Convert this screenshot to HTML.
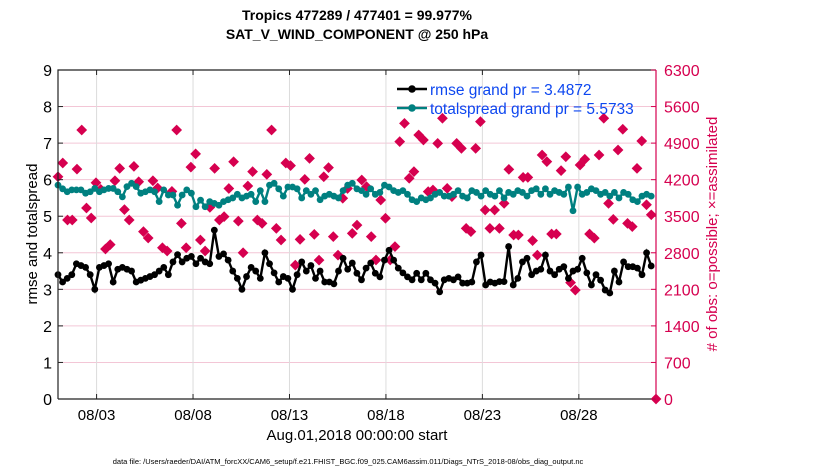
<!DOCTYPE html>
<html><head><meta charset="utf-8"><style>
body{margin:0;background:#fff;}
svg text{font-family:"Liberation Sans",Arial,sans-serif;}
</style></head><body>
<svg id="chart" width="830" height="470" xmlns="http://www.w3.org/2000/svg">
<rect width="830" height="470" fill="#fff"/>
<g id="grid"></g>
<g id="marks"></g>
<g id="axes"></g>
<text x="357" y="20" font-size="14" font-weight="bold" text-anchor="middle">Tropics 477289 / 477401 = 99.977%</text>
<text x="357" y="39" font-size="14" font-weight="bold" text-anchor="middle">SAT_V_WIND_COMPONENT @ 250 hPa</text>
<text transform="translate(37,234) rotate(-90)" font-size="15" text-anchor="middle">rmse and totalspread</text>
<text transform="translate(717,234) rotate(-90)" font-size="15" fill="#d6004f" text-anchor="middle"># of obs: o=possible; ×=assimilated</text>
<text x="357" y="440" font-size="15" text-anchor="middle">Aug.01,2018 00:00:00 start</text>
<text x="348" y="464" font-size="7.5" text-anchor="middle">data file: /Users/raeder/DAI/ATM_forcXX/CAM6_setup/f.e21.FHIST_BGC.f09_025.CAM6assim.011/Diags_NTrS_2018-08/obs_diag_output.nc</text>
<g>
<line x1="397" y1="89" x2="427" y2="89" stroke="#000" stroke-width="2.5"/>
<circle cx="412" cy="89" r="3.8" fill="#000"/>
<text x="430" y="95" font-size="15.5" fill="#0d47f0">rmse grand pr = 3.4872</text>
<line x1="397" y1="108" x2="427" y2="108" stroke="#008080" stroke-width="2.5"/>
<circle cx="412" cy="108" r="3.8" fill="#008080"/>
<text x="430" y="114" font-size="15.5" fill="#0d47f0">totalspread grand pr = 5.5733</text>
</g>
</svg>
<script>
const xTickLabels = ["08/03","08/08","08/13","08/18","08/23","08/28"];
const xTickDays = [2,7,12,17,22,27];
const yTicks = [0,1,2,3,4,5,6,7,8,9];
const y2Ticks = [0,700,1400,2100,2800,3500,4200,4900,5600,6300];
const rmse = [3.4,3.2,3.3,3.4,3.7,3.65,3.6,3.4,3.0,3.6,3.65,3.7,3.2,3.55,3.6,3.55,3.5,3.2,3.25,3.3,3.35,3.4,3.5,3.6,3.4,3.75,3.95,3.75,3.85,3.9,3.7,3.85,3.75,3.7,
4.62,3.9,3.97,3.8,3.5,3.3,3.0,3.35,3.6,3.5,3.3,4.0,3.7,3.45,3.2,3.35,3.3,3.0,3.4,3.75,3.5,3.65,3.3,3.5,3.2,3.2,3.15,3.5,3.85,3.55,
3.72,3.44,3.26,3.58,3.72,3.44,3.34,3.8,4.07,3.8,3.58,3.45,3.34,3.26,3.44,3.26,3.44,3.26,3.17,2.93,3.26,3.3,3.26,3.34,3.17,3.17,3.2,3.75,3.94,3.12,3.2,3.17,
3.21,3.21,4.17,3.12,3.3,3.75,3.85,3.4,3.5,3.55,3.94,3.5,3.4,3.55,3.62,3.3,3.5,3.55,3.85,3.45,3.12,3.4,3.25,2.98,2.9,3.5,3.2,3.75,3.62,3.62,3.58,3.4,4.0,3.64];
const spread = [5.85,5.75,5.67,5.72,5.72,5.72,5.63,5.67,5.76,5.67,5.72,5.76,5.76,5.67,5.53,5.81,5.9,5.81,5.63,5.67,5.72,5.67,5.4,5.72,5.58,5.58,5.3,5.58,5.72,5.63,5.26,5.44,5.26,5.4,
5.35,5.3,5.4,5.45,5.5,5.6,5.5,5.55,5.6,5.4,5.7,5.4,5.85,5.9,5.75,5.55,5.8,5.8,5.75,5.5,5.7,5.6,5.7,5.45,5.55,5.6,5.55,5.5,5.7,5.85,
5.9,5.75,5.7,5.6,5.75,5.6,5.65,5.85,5.8,5.7,5.65,5.7,5.6,5.45,5.4,5.5,5.45,5.5,5.6,5.65,5.55,5.55,5.6,5.7,5.55,5.5,5.7,5.65,5.55,5.7,5.6,5.55,
5.7,5.5,5.65,5.6,5.7,5.65,5.55,5.7,5.75,5.6,5.75,5.6,5.7,5.65,5.6,5.8,5.15,5.8,5.6,5.65,5.75,5.7,5.6,5.65,5.55,5.65,5.5,5.65,5.6,5.45,5.4,5.55,5.6,5.55];
const obsCount = [4257,4519,3428,3428,4403,5151,3657,3466,4142,4014,2872,2955,4180,4417,3627,3428,4455,4161,3204,3083,4180,4040,2897,2834,3976,5151,3364,2897,4440,4695,3045,2834,
3670,4417,3428,3492,4030,4544,3407,2800,4078,4353,3428,3364,4302,5151,3268,3045,4519,4468,2563,3057,4206,4608,3153,2660,4257,4430,3109,2755,3844,4030,
3172,3330,4194,4066,3109,2662,3811,3460,2662,2917,4928,5279,4226,4353,5055,4960,3970,4002,4896,5375,4034,3875,4896,4800,3267,3204,4800,5311,3619,3267,
3619,3268,3747,4398,3140,3140,4245,4245,3032,2755,4673,4545,3160,3160,4372,4640,2228,2085,4480,4590,3160,3080,4673,5375,3747,3440,4769,5165,3362,3300,4417,4940,3720,3527,0];

const L=58,R=656,T=70,B=399, NS="http://www.w3.org/2000/svg";
const xS = d => L + d*(R-L)/31;
const yS = v => B - v*(B-T)/9;
const y2S = v => B - v*(B-T)/6300;
function mk(tag, attrs, parent){const e=document.createElementNS(NS,tag);for(const k in attrs)e.setAttribute(k,attrs[k]);document.getElementById(parent).appendChild(e);return e;}
yTicks.forEach(v=>{ if(v>0&&v<9){const g=mk('line',{x1:L,x2:R,y1:yS(v),y2:yS(v),stroke:'#f3c6d6','stroke-width':1},'grid');

}});
xTickDays.forEach(d=>{const g=mk('line',{x1:xS(d),x2:xS(d),y1:T,y2:B,stroke:'#dcdcdc','stroke-width':1},'grid');

});
const rn=obsCount.length;
obsCount.forEach((v,i)=>{const x=xS(i*31/(rn-1)),y=y2S(v);
const p=mk('rect',{x:x-3.8,y:y-3.8,width:7.6,height:7.6,fill:'#d6004f',transform:`rotate(45 ${x} ${y})`},'marks');

});
function series(arr,color,name){const n=arr.length;const pts=arr.map((v,i)=>[xS(i*30.75/(n-1)),yS(v)]);
const pl=mk('polyline',{points:pts.map(p=>p.join(',')).join(' '),fill:'none',stroke:color,'stroke-width':2.4},'marks');


pts.forEach(p=>{const c=mk('circle',{cx:p[0],cy:p[1],r:3.4,fill:color},'marks');

});}
series(spread,'#008080','totalspread');
series(rmse,'#000','rmse');
const ax=mk('path',{d:`M${L},${B}H${R}M${L},${B}V${T}H${R}`,stroke:'#222','stroke-width':1.2,fill:'none'},'axes');


const ax2=mk('line',{x1:R,x2:R,y1:T,y2:B,stroke:'#d6004f','stroke-width':1.2},'axes');


yTicks.forEach(v=>{mk('line',{x1:L,x2:L+5,y1:yS(v),y2:yS(v),stroke:'#222'},'axes');
const t=mk('text',{x:L-6,y:yS(v)+6,'font-size':16,'text-anchor':'end'},'axes');t.textContent=v;

});
y2Ticks.forEach(v=>{mk('line',{x1:R-5,x2:R,y1:y2S(v),y2:y2S(v),stroke:'#d6004f'},'axes');
const t=mk('text',{x:R+8,y:y2S(v)+6,'font-size':16,fill:'#d6004f'},'axes');t.textContent=v;

});
xTickDays.forEach((d,i)=>{mk('line',{x1:xS(d),x2:xS(d),y1:B,y2:B-5,stroke:'#222'},'axes');mk('line',{x1:xS(d),x2:xS(d),y1:T,y2:T+5,stroke:'#222'},'axes');
const t=mk('text',{x:xS(d),y:B+21,'font-size':15,'text-anchor':'middle'},'axes');t.textContent=xTickLabels[i];

});
</script>
</body></html>
